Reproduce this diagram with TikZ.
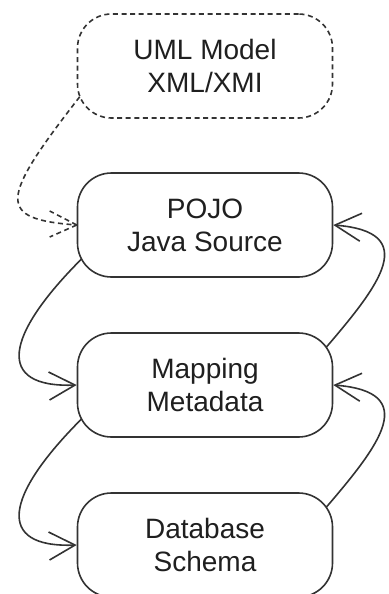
\documentclass[tikz,border=0pt]{standalone}
\usepackage{fontspec}
\setmainfont{Liberation Sans}
\usetikzlibrary{arrows.meta,calc}
\definecolor{ln}{HTML}{333333}
\begin{document}
\begin{tikzpicture}[x=0.5pt,y=-0.5pt,
  box/.style={draw=ln, line width=0.8pt, rounded corners=17pt, minimum width=127.5pt,
    minimum height=52pt, align=center, inner sep=0pt, text=black!88,
    font=\fontsize{14pt}{16.5pt}\selectfont},
  dbox/.style={box, dash pattern=on 2.5pt off 1.8pt},
  conn/.style={draw=ln, line width=0.8pt, -{Straight Barb[length=13pt,width=14pt]}},
  dconn/.style={draw=ln, line width=0.8pt, dash pattern=on 2.5pt off 1.8pt}
]
\useasboundingbox[fill=white] (0,0) rectangle (389,594);

\node[dbox] (uml) at (205,66)  {UML Model\\XML/XMI};
\node[box]  (pojo) at (205,225) {POJO\\Java Source};
\node[box]  (map) at (205,385) {Mapping\\Metadata};
\node[box]  (db) at (205,545) {Database\\Schema};

% dashed connector UML -> POJO
\draw[dconn] ($(uml.south west)+(3,-22)$) .. controls +(-81,104) and +(-80,-6) .. (pojo.west);
\draw[dconn] (pojo.west) -- +(-27,-14);
\draw[dconn] (pojo.west) -- +(-27,12);

% left connectors
\draw[conn] ($(pojo.south west)+(5,-19)$) .. controls +(-77,77) and +(-82,3) .. (map.west);
\draw[conn] ($(map.south west)+(5,-19)$) .. controls +(-77,77) and +(-82,3) .. (db.west);

% right connectors
\draw[conn] ($(map.north east)+(-7,15)$) .. controls +(54,-63) and +(87,7) .. (pojo.east);
\draw[conn] ($(db.north east)+(-7,15)$) .. controls +(54,-63) and +(87,7) .. (map.east);
\end{tikzpicture}
\end{document}
